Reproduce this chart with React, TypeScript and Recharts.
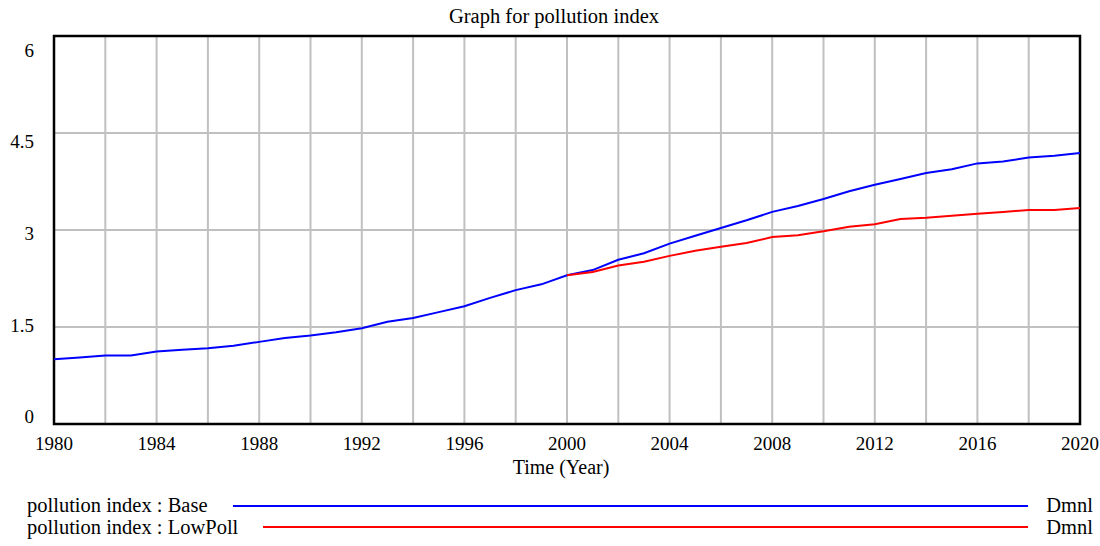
import { LineChart, Line, XAxis, YAxis, CartesianGrid, ReferenceArea } from 'recharts';

const years = [
  1980, 1981, 1982, 1983, 1984, 1985, 1986, 1987, 1988, 1989,
  1990, 1991, 1992, 1993, 1994, 1995, 1996, 1997, 1998, 1999,
  2000, 2001, 2002, 2003, 2004, 2005, 2006, 2007, 2008, 2009,
  2010, 2011, 2012, 2013, 2014, 2015, 2016, 2017, 2018, 2019, 2020,
];

const baseValues = [
  1.0, 1.03, 1.06, 1.06, 1.12, 1.15, 1.17, 1.21, 1.27, 1.33,
  1.37, 1.42, 1.48, 1.58, 1.64, 1.73, 1.82, 1.95, 2.07, 2.16,
  2.3, 2.38, 2.54, 2.64, 2.79, 2.91, 3.03, 3.15, 3.28, 3.37,
  3.48, 3.6, 3.7, 3.79, 3.88, 3.94, 4.03, 4.06, 4.12, 4.15, 4.19,
];

// LowPoll run only diverges from 2000 on
const lowPollValues = [
  null, null, null, null, null, null, null, null, null, null,
  null, null, null, null, null, null, null, null, null, null,
  2.3, 2.35, 2.45, 2.51, 2.6, 2.68, 2.74, 2.8, 2.89, 2.92,
  2.98, 3.05, 3.09, 3.17, 3.19, 3.22, 3.25, 3.28, 3.31, 3.31, 3.34,
];

const xTicks = [
  1980, 1982, 1984, 1986, 1988, 1990, 1992, 1994, 1996, 1998, 2000,
  2002, 2004, 2006, 2008, 2010, 2012, 2014, 2016, 2018, 2020,
];
const xLabelled = [1980, 1984, 1988, 1992, 1996, 2000, 2004, 2008, 2012, 2016, 2020];
const yTicks = [0, 1.5, 3, 4.5, 6];

const series = [
  { key: 'base', name: 'pollution index : Base', unit: 'Dmnl', color: '#0000ff' },
  { key: 'lowPoll', name: 'pollution index : LowPoll', unit: 'Dmnl', color: '#ff0000' },
];

const data = years.map((year, i) => ({
  year,
  base: baseValues[i],
  lowPoll: lowPollValues[i],
}));

const FONT = '"Liberation Serif", "Times New Roman", serif';

const XTick = ({ x, y, payload }: any) => {
  if (!xLabelled.includes(payload.value)) return null;
  return (
    <text x={x} y={y + 19} textAnchor="middle" dominantBaseline="central" fontFamily={FONT} fontSize={19} fill="#000">
      {payload.value}
    </text>
  );
};

// Vensim spreads the value labels a little inside the axis range
const YTick = ({ y, payload }: any) => {
  const v = payload.value;
  const dy = -7.3 + v * 3.55;
  return (
    <text x={34} y={y + dy} textAnchor="end" dominantBaseline="central" fontFamily={FONT} fontSize={19} fill="#000">
      {String(v)}
    </text>
  );
};

const AxisTitle = ({ viewBox }: any) => (
  <text
    x={viewBox.x + viewBox.width / 2 - 6}
    y={viewBox.y + 43}
    textAnchor="middle"
    dominantBaseline="central"
    fontFamily={FONT}
    fontSize={20}
    fill="#000"
  >
    Time (Year)
  </text>
);

const App = () => {
  return (
    <div style={{ position: 'absolute', left: 0, top: 0, width: 1100, height: 546, background: '#fff', fontFamily: FONT }}>
      <div style={{ position: 'absolute', left: 0, top: 4, width: 1108, textAlign: 'center', fontSize: 20.5, lineHeight: '24px' }}>
        Graph for pollution index
      </div>

      <LineChart width={1100} height={546} data={data} margin={{ top: 36, right: 20, left: 0, bottom: 0 }}>
        <CartesianGrid stroke="#c0c0c0" strokeWidth={2} />
        <XAxis
          dataKey="year"
          type="number"
          domain={[1980, 2020]}
          ticks={xTicks}
          interval={0}
          height={122}
          tickSize={0}
          tickMargin={0}
          axisLine={false}
          tickLine={false}
          tick={<XTick />}
          label={<AxisTitle />}
        />
        <YAxis
          type="number"
          domain={[0, 6]}
          ticks={yTicks}
          interval={0}
          width={54}
          axisLine={false}
          tickLine={false}
          tick={<YTick />}
        />
        {series.map((s) => (
          <Line
            key={s.key}
            type="linear"
            dataKey={s.key}
            name={s.name}
            stroke={s.color}
            strokeWidth={2}
            dot={false}
            activeDot={false}
            connectNulls={false}
            isAnimationActive={false}
          />
        ))}
        <ReferenceArea x1={1980} x2={2020} y1={0} y2={6} fill="none" stroke="#000" strokeWidth={2.5} ifOverflow="visible" />
      </LineChart>

      {/* legend rows */}
      <div style={{ position: 'absolute', left: 27, top: 495, width: 1066, fontSize: 20.5 }}>
        {series.map((s) => (
          <div key={s.key} style={{ display: 'flex', alignItems: 'center', height: 21.5 }}>
            <span style={{ whiteSpace: 'nowrap' }}>{s.name}</span>
            <div style={{ flex: 1, height: 0, borderTop: `2px solid ${s.color}`, marginLeft: 25, marginRight: 18 }} />
            <span>{s.unit}</span>
          </div>
        ))}
      </div>
    </div>
  );
};

export default App;
